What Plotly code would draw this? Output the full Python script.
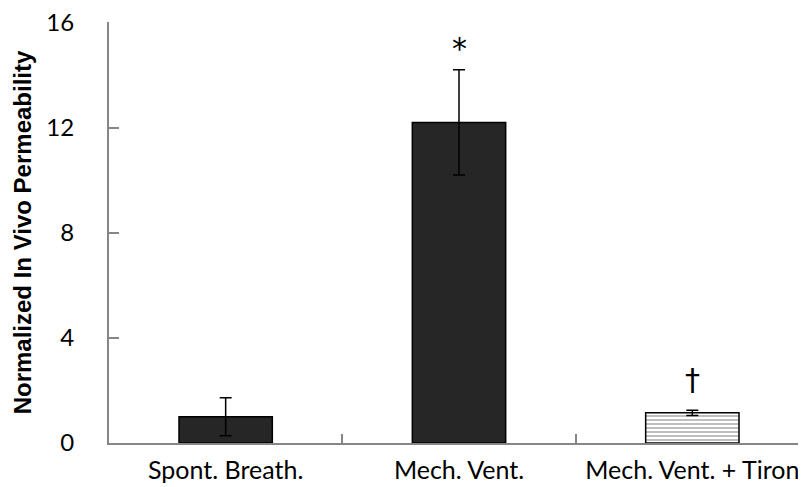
import plotly.graph_objects as go

categories = ["Spont. Breath.", "Mech. Vent.", "Mech. Vent. + Tiron"]
values = [1.0, 12.2, 1.15]
errors = [0.72, 2.0, 0.1]
marks = ["", "*", "†"]
mark_y = [None, 15.0, 2.4]

fills = ["#262626", "#262626", "white"]
patterns = ["", "", "-"]

fig = go.Figure()
fig.add_trace(
    go.Bar(
        x=categories,
        y=values,
        width=0.4,
        marker=dict(
            color=fills,
            line=dict(color="black", width=1.5),
            pattern=dict(shape=patterns, fgcolor="black", bgcolor="white", size=4, solidity=0.35),
        ),
        error_y=dict(type="data", array=errors, color="black", thickness=1.5, width=6),
        showlegend=False,
    )
)

for cat, m, my in zip(categories, marks, mark_y):
    if m:
        fig.add_annotation(x=cat, y=my, text=m, showarrow=False,
                           font=dict(size=30, color="black", family="DejaVu Sans"))

axis_gray = "#868686"
fig.update_layout(
    width=806,
    height=487,
    margin=dict(l=101, r=5, t=14, b=52),
    plot_bgcolor="white",
    paper_bgcolor="white",
    font=dict(family="Lato, Open Sans, sans-serif", color="black"),
    bargap=0.6,
)
fig.update_xaxes(
    automargin=False,
    showline=True, linecolor=axis_gray, linewidth=2,
    ticks="inside", tickson="boundaries", ticklen=9, tickcolor=axis_gray, tickwidth=2,
    tickfont=dict(size=25), ticklabelstandoff=4, ticklabeloverflow="allow", showgrid=False,
)
fig.update_yaxes(
    automargin=False,
    range=[0, 16.02], tickvals=[0, 4, 8, 12, 16],
    showline=True, linecolor=axis_gray, linewidth=2,
    ticks="inside", ticklen=10, tickcolor=axis_gray, tickwidth=2,
    tickfont=dict(size=24), ticklabelstandoff=28, ticklabeloverflow="allow",
    showgrid=False, zeroline=False,
    title=dict(text="<b>Normalized In Vivo Permeability</b>",
               font=dict(size=24, family="Liberation Sans, Arial, sans-serif"), standoff=8),
)

fig.write_html("out.html")
